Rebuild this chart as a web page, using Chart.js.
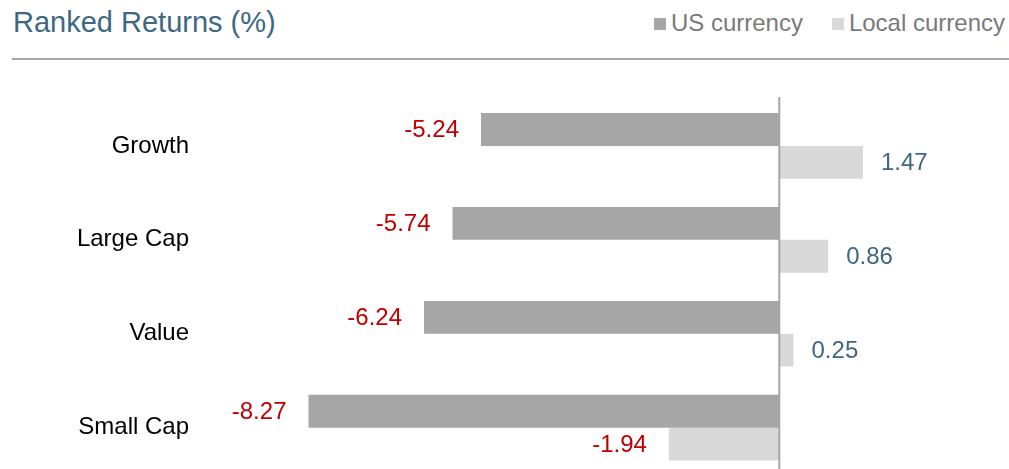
<!DOCTYPE html>
<html>
<head>
<meta charset="utf-8">
<script src="https://cdn.jsdelivr.net/npm/chart.js@4.4.1/dist/chart.umd.min.js"></script>
<style>
  html, body { margin: 0; padding: 0; background: #fff; overflow: hidden; }
  #wrap { position: relative; width: 1009px; height: 469px; overflow: hidden; }
  #title { position: absolute; left: 13px; top: 6px; font: 29px "Liberation Sans", Arial, sans-serif; color: #3e6882; white-space: nowrap; }
  #legend { position: absolute; right: 4px; top: 9px; font: 24px "Liberation Sans", Arial, sans-serif; color: #7a7a7a; white-space: nowrap; display: flex; }
  #legend .item { display: flex; align-items: center; margin-left: 29px; }
  #legend .sw { width: 12px; height: 12px; margin-right: 5px; margin-top: 2px; }
  #rule { position: absolute; left: 12px; right: 0; top: 58px; height: 2px; background: #a6a6a6; }
  #box { position: absolute; left: 0; top: 0; width: 1009px; height: 510px; }
</style>
</head>
<body>
<div id="wrap">
  <div id="title">Ranked Returns (%)</div>
  <div id="legend"></div>
  <div id="rule"></div>
  <div id="box"><canvas id="cv" style="width:1009px;height:510px"></canvas></div>
</div>
<script>
const categories = ["Growth", "Large Cap", "Value", "Small Cap"];
const seriesNames = ["US currency", "Local currency"];
const usCurrency = [-5.24, -5.74, -6.24, -8.27];
const localCurrency = [1.47, 0.86, 0.25, -1.94];
const seriesColors = ["#a6a6a6", "#d9d9d9"];

const legendEl = document.getElementById('legend');
seriesNames.forEach((n, i) => {
  const it = document.createElement('div'); it.className = 'item';
  if (i === 0) it.style.marginLeft = '0';
  const sw = document.createElement('div'); sw.className = 'sw'; sw.style.background = seriesColors[i];
  const t = document.createElement('span'); t.textContent = n;
  it.appendChild(sw); it.appendChild(t); legendEl.appendChild(it);
});

const zeroLine = {
  id: 'zeroLine',
  afterDatasetsDraw(chart) {
    const ctx = chart.ctx, x = chart.scales.x.getPixelForValue(0);
    ctx.save();
    ctx.strokeStyle = '#a6a6a6'; ctx.lineWidth = 2;
    ctx.beginPath(); ctx.moveTo(x, chart.chartArea.top - 2); ctx.lineTo(x, chart.chartArea.bottom + 5); ctx.stroke();
    ctx.restore();
  }
};

const valueLabels = {
  id: 'valueLabels',
  afterDatasetsDraw(chart) {
    const ctx = chart.ctx;
    ctx.save();
    ctx.font = '24px "Liberation Sans", Arial, sans-serif';
    ctx.textBaseline = 'middle';
    chart.data.datasets.forEach((ds, di) => {
      const meta = chart.getDatasetMeta(di);
      meta.data.forEach((bar, i) => {
        const v = ds.data[i];
        const txt = v.toFixed(2);
        if (v < 0) {
          ctx.fillStyle = '#c00000'; ctx.textAlign = 'right';
          ctx.fillText(txt, bar.x - 22, bar.y + 1);
        } else {
          ctx.fillStyle = '#3e6882'; ctx.textAlign = 'left';
          ctx.fillText(txt, bar.x + 18, bar.y + 1);
        }
      });
    });
    ctx.restore();
  }
};

new Chart(document.getElementById('cv'), {
  type: 'bar',
  data: {
    labels: categories,
    datasets: [
      { label: seriesNames[0], data: usCurrency, backgroundColor: seriesColors[0] },
      { label: seriesNames[1], data: localCurrency, backgroundColor: seriesColors[1] }
    ]
  },
  options: {
    indexAxis: 'y',
    responsive: true,
    maintainAspectRatio: false,
    animation: false,
    devicePixelRatio: 1,
    layout: { padding: { top: 99, bottom: 5, right: 2, left: 0 } },
    datasets: { bar: { categoryPercentage: 0.70, barPercentage: 1 } },
    plugins: { legend: { display: false }, title: { display: false }, tooltip: { enabled: false } },
    scales: {
      x: { display: false, min: -10, max: 4 },
      y: {
        grid: { display: false, drawTicks: false },
        border: { display: false },
        ticks: { color: '#000', padding: 21, font: { size: 24, family: '"Liberation Sans", Arial, sans-serif' } },
        afterFit(scale) { scale.width = 210; }
      }
    }
  },
  plugins: [zeroLine, valueLabels]
});
</script>
</body>
</html>
